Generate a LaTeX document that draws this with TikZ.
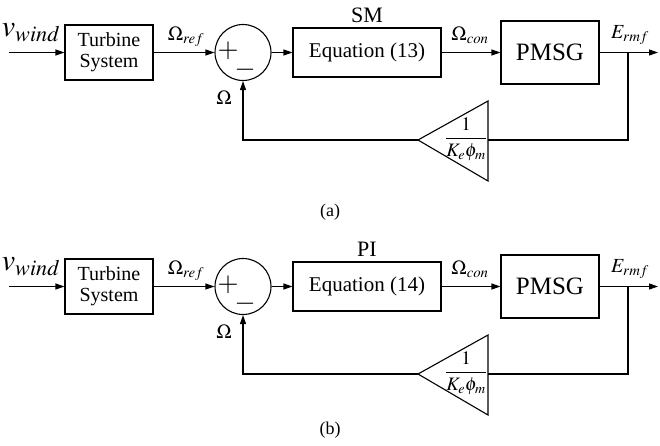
\documentclass[tikz,border=0pt]{standalone}
\usepackage{mathptmx}
\usepackage{fontspec}
\setmainfont{Liberation Serif}
\usetikzlibrary{arrows.meta,positioning}

\begin{document}
\begin{tikzpicture}[
  x=1pt, y=-1pt, >={Triangle[length=9pt,width=6pt]}, line width=1.1pt,
  font=\fontsize{20}{21}\selectfont,
  block/.style={rectangle, draw, align=center, inner sep=0pt},
  sumnode/.style={circle, draw, minimum size=56pt, inner sep=0pt},
  lbl/.style={inner sep=0pt},
  signlbl/.style={inner sep=0pt, font=\fontsize{27}{27}\selectfont},
  biglbl/.style={inner sep=0pt, font=\fontsize{30}{30}\selectfont},
  gainlbl/.style={inner sep=0pt, font=\fontsize{19}{19}\selectfont}
]
\useasboundingbox (0,0) rectangle (660,445);

% (a) sliding mode controller
\coordinate (inA) at (9,52.5);
\node[biglbl] (vwA) at (31,33) {$v_{wind}$};
\node[block, minimum width=88pt, minimum height=55pt] (turbA) at (109,52.5) {Turbine\\System};
\node[lbl] (refA) at (186,37) {$\Omega_{ref}$};
\node[sumnode] (sumA) at (243,52.5) {};
\node[signlbl] (plusA) at (228,51) {$+$};
\node[signlbl] (minusA) at (245,70) {$-$};
\node[lbl] (omA) at (224,98) {$\Omega$};
\node[block, minimum width=148pt, minimum height=49pt, font=\fontsize{21}{21}\selectfont] (eqA) at (367,52.5) {Equation (13)};
\node[lbl, font=\fontsize{22}{22}\selectfont] (smA) at (367,15) {SM};
\node[lbl] (conA) at (470,35) {$\Omega_{con}$};
\node[block, minimum width=98pt, minimum height=63pt, font=\fontsize{25}{25}\selectfont] (pmsgA) at (550,52.5) {PMSG};
\node[lbl] (ermfA) at (630,35) {$E_{rmf}$};
\coordinate (brA) at (628,52.5);
\coordinate (outA) at (658,52.5);
\coordinate (gLA) at (418,140);
\coordinate (gRA) at (488,140);
\coordinate (gTA) at (488,101);
\coordinate (gBA) at (488,181);
\draw (gLA) -- (gTA) -- (gBA) -- cycle;
\node[gainlbl] (kA) at (466,139) {$\displaystyle\frac{1}{K_e\phi_m}$};
\node[lbl, font=\fontsize{18}{18}\selectfont] (capA) at (330,212) {(a)};

\draw[->] (inA) -- (turbA);
\draw[->] (turbA) -- (sumA);
\draw[->] (sumA) -- (eqA);
\draw[->] (eqA) -- (pmsgA);
\draw[->] (pmsgA) -- (outA);
\draw (brA) |- (gRA);
\draw[->] (gLA) -| (sumA.south);

% (b) PI controller
\coordinate (inB) at (9,286.5);
\node[biglbl] (vwB) at (31,267) {$v_{wind}$};
\node[block, minimum width=88pt, minimum height=55pt] (turbB) at (109,286.5) {Turbine\\System};
\node[lbl] (refB) at (186,271) {$\Omega_{ref}$};
\node[sumnode] (sumB) at (243,286.5) {};
\node[signlbl] (plusB) at (228,285) {$+$};
\node[signlbl] (minusB) at (245,304) {$-$};
\node[lbl] (omB) at (224,332) {$\Omega$};
\node[block, minimum width=148pt, minimum height=49pt, font=\fontsize{21}{21}\selectfont] (eqB) at (367,286.5) {Equation (14)};
\node[lbl, font=\fontsize{22}{22}\selectfont] (piB) at (367,249) {PI};
\node[lbl] (conB) at (470,269) {$\Omega_{con}$};
\node[block, minimum width=98pt, minimum height=63pt, font=\fontsize{25}{25}\selectfont] (pmsgB) at (550,286.5) {PMSG};
\node[lbl] (ermfB) at (630,269) {$E_{rmf}$};
\coordinate (brB) at (628,286.5);
\coordinate (outB) at (658,286.5);
\coordinate (gLB) at (418,374);
\coordinate (gRB) at (488,374);
\coordinate (gTB) at (488,335);
\coordinate (gBB) at (488,415);
\draw (gLB) -- (gTB) -- (gBB) -- cycle;
\node[gainlbl] (kB) at (466,373) {$\displaystyle\frac{1}{K_e\phi_m}$};
\node[lbl, font=\fontsize{18}{18}\selectfont] (capB) at (330,430) {(b)};

\draw[->] (inB) -- (turbB);
\draw[->] (turbB) -- (sumB);
\draw[->] (sumB) -- (eqB);
\draw[->] (eqB) -- (pmsgB);
\draw[->] (pmsgB) -- (outB);
\draw (brB) |- (gRB);
\draw[->] (gLB) -| (sumB.south);
\end{tikzpicture}
\end{document}
